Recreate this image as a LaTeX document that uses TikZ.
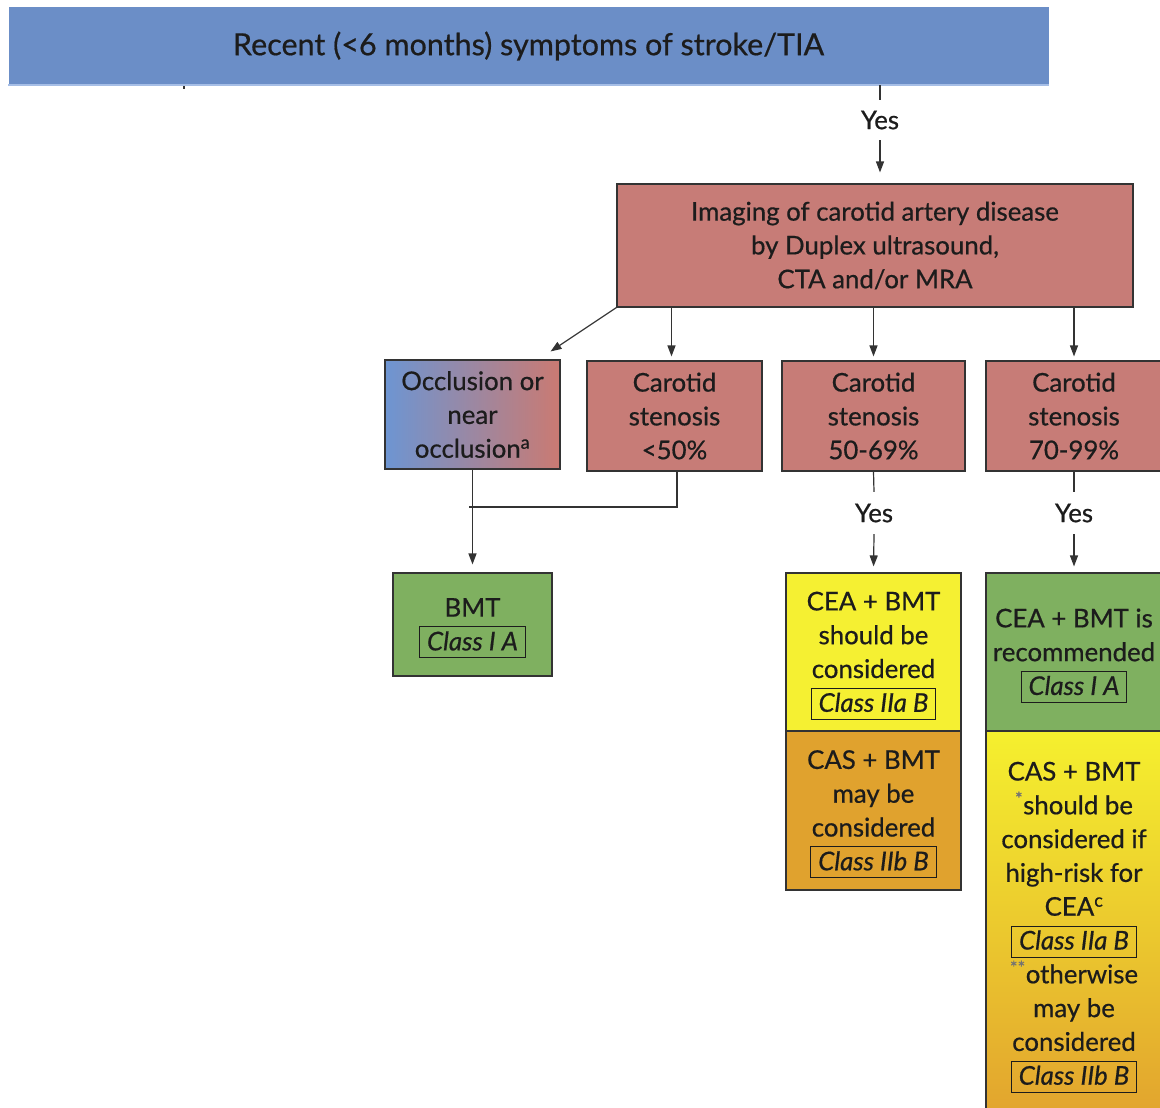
\documentclass[tikz,border=0pt]{standalone}
\usepackage{fontspec}
\setmainfont{Lato}[RawFeature={embolden=0.6}]
\usetikzlibrary{arrows.meta}
\definecolor{barblue}{HTML}{6B8EC7}
\definecolor{baredge}{HTML}{A6BEE6}
\definecolor{boxred}{HTML}{C77C77}
\definecolor{boxgreen}{HTML}{7FB060}
\definecolor{boxyellow}{HTML}{F5F032}
\definecolor{boxorange}{HTML}{E0A22E}
\definecolor{gradtop}{HTML}{F5F02E}
\definecolor{gradbot}{HTML}{E2A42E}
\definecolor{occL}{HTML}{6D95D2}
\definecolor{occR}{HTML}{CA7A72}
\definecolor{linec}{HTML}{333333}
\definecolor{txtc}{HTML}{1C1C1C}
\newcommand\cls[1]{{\setlength\fboxsep{0pt}\setlength\fboxrule{0.9pt}\fbox{\rule[-7pt]{0pt}{30pt}\hspace{7pt}\itshape #1\hspace{7pt}}}}
\begin{document}
\begin{tikzpicture}[x=1pt,y=-1pt,
  box/.style={draw=linec,line width=1.1pt,inner sep=0pt,align=center,text=txtc,
    font=\fontsize{25.8}{33.8}\selectfont},
  clsbox/.style={box,text depth=0.5pt},
  lab/.style={inner sep=0pt,text=txtc,font=\fontsize{25.8}{30}\selectfont},
  ln/.style={draw=linec,line width=1.2pt},
  arr/.style={-{Triangle[length=11pt,width=8pt]}}]
\useasboundingbox (0,0) rectangle (1160,1108);
\clip (0,0) rectangle (1160,1108);
\fill[white] (0,0) rectangle (1160,1108);
% top bar
\node[fill=barblue,minimum width=1040pt,minimum height=78pt,inner sep=0pt,text=txtc,
  font=\fontsize{30.5}{34}\selectfont] (top) at (528.5,46) {Recent (<6 months) symptoms of stroke/TIA};
\draw[baredge,line width=1.5pt] (top.south west) -- (top.south east);
\draw[linec,line width=1.5pt] (184,86) -- (184,89);
% imaging
\node[box,fill=boxred,minimum width=516pt,minimum height=123pt] (img) at (875,245.5)
  {Imaging of carotid artery disease\\by Duplex ultrasound,\\CTA and/or MRA};
% second row
\node[box,left color=occL,right color=occR,minimum width=175pt,minimum height=109pt] (occ) at (472.5,414.5)
  {Occlusion or\\near\\occlusion\textsuperscript{a}};
\node[box,fill=boxred,minimum width=175pt,minimum height=110pt] (c50) at (674.5,416)
  {Carotid\\stenosis\\<50\%};
\node[box,fill=boxred,minimum width=183pt,minimum height=110pt] (c69) at (873.5,416)
  {Carotid\\stenosis\\50-69\%};
\node[box,fill=boxred,minimum width=176pt,minimum height=110pt] (c99) at (1074,416)
  {Carotid\\stenosis\\70-99\%};
% yes labels
\node[lab,minimum height=40pt] (y1) at (880,120) {Yes};
\node[lab,minimum height=42pt] (y2) at (874,513) {Yes};
\node[lab,minimum height=42pt] (y3) at (1074,513) {Yes};
% third row
\node[clsbox,fill=boxgreen,minimum width=159pt,minimum height=103pt] (bmt) at (472.5,624.5)
  {BMT\\\cls{Class I A}};
\node[clsbox,fill=boxyellow,minimum width=175pt,minimum height=158pt] (cea1) at (873.5,652)
  {CEA + BMT\\should be\\considered\\\cls{Class IIa B}};
\node[clsbox,fill=boxorange,minimum width=175pt,minimum height=159pt] (cas1) at (873.5,810.5)
  {CAS + BMT\\may be\\considered\\\cls{Class IIb B}};
\node[clsbox,fill=boxgreen,minimum width=176pt,minimum height=158pt] (cea2) at (1074,652)
  {CEA + BMT is\\recommended\\\cls{Class I A}};
\node[clsbox,top color=gradtop,bottom color=gradbot,minimum width=176pt,minimum height=385pt] (cas2) at (1074,923.5)
  {CAS + BMT\\\textsuperscript{\color{black!55}*}should be\\considered if\\high-risk for\\CEA\textsuperscript{c}\\\cls{Class IIa B}\\\textsuperscript{\color{black!55}**}otherwise\\may be\\considered\\\cls{Class IIb B}};
% connectors
\draw[ln] (y1 |- top.south) -- (y1.north);
\draw[ln,arr,shorten >=11pt] (y1.south) -- (y1 |- img.north);
\draw[ln,arr] (img.south west) -- ([shift={(-10pt,8pt)}]occ.north east);
\draw[ln,arr,shorten >=4pt] ([xshift=-3pt]c50.north |- img.south) -- ([xshift=-3pt]c50.north);
\draw[ln,arr,shorten >=4pt] (c69.north |- img.south) -- (c69.north);
\draw[ln,arr,shorten >=4pt] (c99.north |- img.south) -- (c99.north);
\draw[ln] (c69.south) -- (y2.north);
\draw[ln,arr,shorten >=6pt] (y2.south) -- (cea1.north);
\draw[ln] (c99.south) -- (y3.north);
\draw[ln,arr,shorten >=6pt] (y3.south) -- (cea2.north);
\draw[ln,arr,shorten >=8pt] (occ.south) -- (bmt.north);
\coordinate (j) at (469,507);
\draw[ln] ([xshift=2.5pt]c50.south) |- (j);
\end{tikzpicture}
\end{document}
